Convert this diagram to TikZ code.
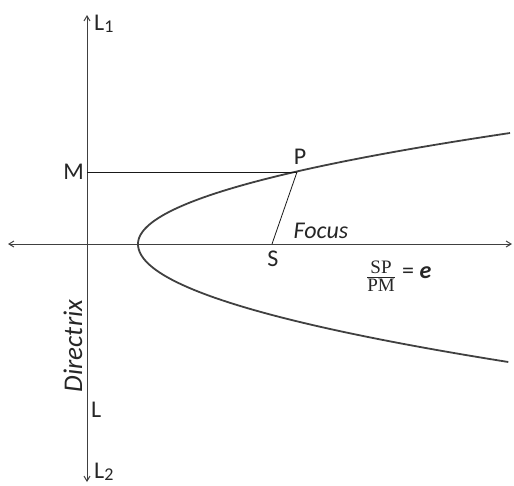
\documentclass[tikz,border=0pt]{standalone}
\usepackage{fontspec}
\setmainfont{Carlito}
\newfontfamily\serifff{Liberation Serif}
\usetikzlibrary{arrows.meta}
\begin{document}
\begin{tikzpicture}[x=1pt,y=-1pt,
  axisline/.style={draw=black!75,line width=1pt,{Straight Barb[length=5pt,width=6pt]}-{Straight Barb[length=5pt,width=6pt]}},
  thinline/.style={draw=black!90,line width=0.8pt},
  curveline/.style={draw=black!75,line width=1.8pt},
  lbl/.style={font=\fontsize{24}{26}\selectfont,inner sep=0pt,text=black!85}]
\useasboundingbox (0,0) rectangle (514,485);
% points
\coordinate (Lone) at (87,15);
\coordinate (Ltwo) at (87,482);
\coordinate (Aleft) at (8,244);
\coordinate (Aright) at (512,244);
\coordinate (Mp) at (87,172);
\coordinate (Pp) at (297,172);
\coordinate (Sp) at (272,244);
% axes
\draw[axisline] (Ltwo) -- (Lone);
\draw[axisline] (Aleft) -- (Aright);
% parabola
\draw[curveline] plot[domain=-111:0,samples=80] ({138+0.0302*\x*\x},{244+\x})
  -- plot[domain=0:118,samples=80] ({138+0.0266*\x*\x},{244+\x});
% lines
\draw[thinline] (Mp) -- (Pp);
\draw[thinline] (Sp) -- (Pp);
% labels
\node[lbl,anchor=east] (M) at (84,172) {M};
\node[lbl] (P) at (300,157) {P};
\node[lbl] (S) at (273,259) {S};
\node[lbl] (Focus) at (321,231) {\itshape Focus};
\node[lbl,anchor=west] (L1) at (94,24) {L\raisebox{-2pt}{\fontsize{18}{20}\selectfont 1}};
\node[lbl,anchor=west] (L2) at (94,472) {L\raisebox{-2pt}{\fontsize{18}{20}\selectfont 2}};
\node[lbl,anchor=west] (L) at (91,410) {L};
\node[lbl,rotate=90,font=\fontsize{27}{29}\selectfont] (Dir) at (73,346) {\itshape Directrix};
\node[inner sep=0pt,text=black!85] (frac) at (381,276)
  {$\displaystyle\frac{\hbox{\serifff\fontsize{19}{21}\selectfont SP}}{\hbox{\serifff\fontsize{19}{21}\selectfont PM}}$};
\node[lbl,anchor=west] (eq) at (402,273) {= \textbf{\itshape e}};
\end{tikzpicture}
\end{document}
